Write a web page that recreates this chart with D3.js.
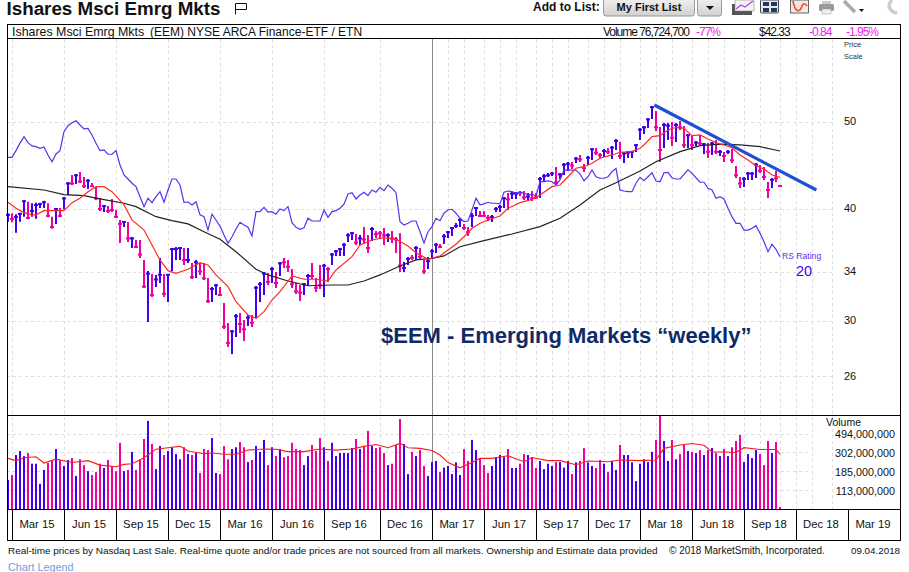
<!DOCTYPE html>
<html>
<head>
<meta charset="utf-8">
<script src="https://cdn.jsdelivr.net/npm/d3@7"></script>
<style>
  html, body { margin: 0; padding: 0; background: #fff; }
  svg { display: block; font-family: "Liberation Sans", Arial, sans-serif; }
</style>
</head>
<body>
<svg id="chart" width="909" height="572"></svg>
<script>
// weekly highs / lows / closes
const highs = [39.47,39.47,39.37,39.52,40.83,40.65,40.49,40.55,40.55,40.76,40.49,39.12,40.0,40.0,41.11,42.76,43.53,43.64,43.87,43.31,
  43.09,42.65,42.22,41.04,40.32,40.21,40.94,39.8,38.79,38.69,38.59,37.13,36.85,36.85,35.01,34.03,33.77,33.69,35.19,33.77,
  33.77,36.09,36.19,36.19,36.09,36.09,34.74,35.01,34.74,34.74,33.43,32.66,32.92,32.66,31.35,29.78,29.25,30.48,30.56,30.01,
  30.4,30.4,32.75,33.09,33.95,33.86,34.39,33.95,34.83,35.19,35.01,34.21,33.0,32.83,33.0,33.77,34.74,33.43,34.56,34.65,
  34.39,35.64,35.91,36.09,36.57,37.5,37.6,37.41,37.32,38.09,37.32,38.09,37.7,37.7,37.99,37.5,37.7,37.13,37.5,34.83,
  35.28,35.46,36.28,36.09,35.01,35.28,36.0,36.57,36.47,37.41,37.7,38.09,38.49,38.99,38.39,38.09,39.5,40.11,39.7,39.7,
  39.3,39.3,40.11,40.32,41.15,41.57,41.68,41.68,41.78,41.78,41.57,41.78,41.57,43.31,43.64,43.76,43.87,44.43,43.76,44.89,
  45.01,45.01,45.59,45.83,44.78,45.71,46.66,46.66,46.07,46.54,46.66,46.9,47.74,47.38,46.18,46.3,46.3,47.14,49.11,49.36,
  50.38,51.95,51.3,49.24,49.74,49.74,49.87,49.74,49.99,49.36,48.36,48.12,47.5,48.24,47.26,47.26,47.38,47.62,46.42,46.18,
  46.42,46.54,44.54,43.31,43.31,43.87,43.87,44.89,44.67,44.43,42.76,43.2,43.98,42.4];
const lows = [38.62,38.56,37.54,38.62,39.12,38.86,39.12,38.92,40.0,40.0,39.06,37.93,38.4,39.06,39.87,41.36,42.43,42.54,42.65,42.11,
  42.0,42.22,40.83,39.7,39.6,39.5,39.6,38.99,36.57,38.09,36.66,36.09,36.09,35.19,32.58,29.86,31.83,32.66,33.0,31.83,
  31.43,34.03,35.01,35.01,34.56,34.74,33.34,33.43,33.69,33.26,31.35,31.43,32.0,31.92,29.33,28.0,27.5,28.73,29.03,28.44,
  29.55,29.48,30.16,31.43,32.0,32.83,33.0,32.58,33.6,34.3,33.95,32.58,32.08,31.51,32.0,32.75,33.34,32.25,32.49,31.83,
  33.09,34.56,35.37,35.37,35.37,36.66,36.85,36.38,36.38,36.47,35.64,36.76,37.04,37.04,36.38,36.66,36.57,35.64,33.95,33.95,
  34.56,35.01,35.01,35.01,33.77,34.21,35.19,35.64,36.09,36.47,37.04,37.23,37.99,38.09,37.8,37.23,38.09,39.2,39.09,39.09,
  38.69,38.59,39.6,39.6,40.0,39.8,40.94,40.94,41.25,40.83,40.72,40.72,40.94,41.04,42.87,43.31,43.42,42.43,43.09,43.53,
  43.98,44.2,44.89,45.01,43.87,44.67,45.24,45.83,45.48,45.59,45.95,45.36,46.42,45.36,44.89,45.48,45.48,46.18,47.62,48.36,
  49.11,50.25,48.74,45.01,46.66,47.62,46.9,47.38,48.86,46.66,46.66,46.42,46.9,47.02,45.95,45.48,45.83,45.95,45.71,45.01,
  45.95,44.89,43.2,42.11,42.22,42.98,42.98,43.2,43.76,42.98,41.04,42.11,42.76,42.25];
const closes = [39.3,38.9,39.1,39.4,40.7,39.0,39.7,40.3,40.4,40.6,39.2,38.1,39.9,39.2,41.0,42.6,42.6,43.5,42.8,42.3,
  42.9,42.3,41.0,39.9,40.2,39.7,39.8,39.1,38.4,38.6,37.0,37.0,36.2,35.5,32.7,33.8,32.0,33.3,33.7,32.1,
  33.7,36.0,36.0,36.1,35.0,35.0,33.5,34.8,34.0,33.4,31.5,32.5,32.8,32.0,29.5,28.3,29.15,30.3,29.7,29.3,
  30.2,29.8,32.6,32.9,33.8,33.1,34.2,33.0,34.7,34.8,34.4,32.9,32.3,32.2,32.9,33.6,33.6,32.6,32.8,34.5,
  34.2,35.5,35.8,36.0,36.4,37.3,37.5,36.6,37.0,36.9,36.1,37.9,37.4,37.5,37.3,37.3,37.0,36.9,34.5,34.3,
  35.1,35.2,36.1,35.3,34.0,34.9,35.8,36.4,36.2,37.2,37.6,38.0,38.2,38.8,38.0,37.6,39.2,40.0,39.2,39.2,
  39.0,39.1,39.9,40.1,41.0,40.9,41.5,41.5,41.6,41.1,41.2,41.0,41.1,43.1,43.4,43.5,43.7,42.7,43.6,44.7,
  44.8,44.6,45.4,45.3,44.3,45.5,46.5,46.1,45.8,46.3,46.2,46.7,47.5,45.7,46.0,46.1,46.2,47.0,48.9,49.2,
  50.2,51.8,49.2,46.42,49.5,49.4,47.9,49.5,49.2,47.0,48.2,47.0,47.3,47.2,47.1,46.2,47.2,46.2,46.2,45.7,
  46.2,45.2,43.5,42.6,43.1,43.7,43.7,44.7,44.0,43.3,41.9,43.0,43.17,42.33];
// 1 = up week (blue), 0 = down week (pink)
const weekUp = ("1011101111" + "0010110100" + "1000100001" + "0100010110" + "1111010100" + "0110001100" + "1011101010" +
  "0000110001" + "0111111010" + "0100010001" + "1010011101" + "1111001100" + "0111101100" + "1001111011" + "1010011001" +
  "0110111111" + "1100110100" + "1010101010" + "1000111100" + "0100").split("").map(Number);

// weekly volume, millions of shares
const volumes = [149,170,286,317,278,301,228,228,135,194,233,245,334,251,215,251,264,166,256,220,
  188,170,183,228,204,251,215,188,393,188,194,310,194,256,434,694,381,198,361,286,
  317,350,293,256,350,293,286,301,179,334,325,445,179,174,361,256,334,350,401,350,
  238,251,361,310,423,220,350,278,334,270,278,393,334,325,220,278,371,317,445,350,
  245,393,278,301,301,301,343,434,334,361,536,361,343,350,301,220,228,371,730,381,
  174,310,278,325,215,166,238,245,183,206,215,174,236,170,334,245,423,325,262,220,
  179,215,270,286,270,334,204,204,228,293,286,270,204,245,198,228,215,238,238,206,
  245,174,236,245,342,236,215,204,251,228,183,245,194,371,286,286,236,145,228,256,
  238,310,423,805,412,245,423,256,293,371,317,310,301,325,286,325,343,301,278,334,
  278,350,412,481,238,293,264,325,293,220,412,301,401,74];

// moving averages and relative strength line
const ma10Weeks = [0,2,4,6,7,9,11,14,16,18,20,22,24,26,29,31,34,36,38,40,42,45,48,50,52,55,57,60,62,64,66,68,71,74,77,80,82,86,88,91,94,97,100,102,105,108,110,112,114,116,118,120,123,125,128,131,133,136,138,140,142,144,146,148,151,153,156,158,159,161,163,165,167,169,171,173,175,177,179,181,183,185,187,189,191,193];
const ma10Values = [40.59,39.97,39.53,39.3,39.3,39.73,39.73,39.73,40.55,41.01,41.71,42.25,42.25,41.71,40.32,38.79,37.8,36.38,35.01,34.06,33.83,34.18,34.77,34.56,33.69,32.69,31.45,30.4,30.14,30.66,31.59,32.27,33.6,33.32,33.32,33.17,34.12,35.31,36.38,36.85,37.07,36.92,36.28,35.67,35.07,35.37,35.91,36.45,37.16,37.97,38.46,38.79,39.19,39.97,40.55,40.9,41.36,42.25,42.43,43.34,44.29,44.47,44.86,45.44,45.83,46.15,46.22,46.62,47.02,48.03,48.15,48.86,49.2,49.07,48.15,48.24,47.74,47.29,47.02,46.69,45.83,45.24,44.59,44.2,43.53,43.28];
const ma40Weeks = [0,9,14,19,23,29,32,37,41,45,49,53,57,62,65,70,75,81,85,89,93,98,102,106,109,113,119,126,133,138,143,148,152,158,162,168,173,178,183,188,193];
const ma40Values = [42.25,41.89,41.39,41.28,40.94,40.49,40.14,39.12,38.72,38.4,37.64,36.92,35.76,34.18,33.69,33.17,32.77,32.83,32.83,33.17,33.69,34.47,35.01,35.16,35.37,36.22,36.79,37.42,38.13,38.96,40.32,41.89,42.68,43.98,45.04,46.22,46.94,47.12,47.02,46.82,46.3];
const rsValues = [45.55,45.55,46.34,47.24,48.03,47.3,46.9,46.82,46.62,46.78,45.83,45.04,45.95,46.34,48.65,49.4,49.78,50.03,49.49,48.99,
  49.07,48.24,47.22,46.34,46.42,45.91,45.91,46.34,44.67,43.53,43.09,42.62,42.25,41.18,40.14,41.01,40.55,41.18,41.71,40.59,
  41.89,43.09,43.09,42.43,40.59,40.62,40.32,40.65,39.3,39.12,37.8,39.37,38.79,38.19,37.32,36.54,37.16,37.9,38.56,38.29,
  38.07,37.23,39.63,39.63,40.07,39.57,39.63,39.37,39.9,39.73,40.14,38.52,38.07,37.87,38.03,38.96,38.69,38.69,38.69,39.8,
  39.06,39.63,39.73,39.97,40.39,41.47,41.6,40.94,41.36,41.65,41.29,41.89,41.65,42.18,41.82,42.43,42.08,41.6,38.62,38.29,
  38.46,38.69,38.69,37.64,36.57,37.64,38.13,38.96,38.72,39.47,39.8,39.87,39.47,38.96,38.62,38.69,39.8,41.01,40.32,40.42,
  40.59,40.49,40.49,40.42,41.65,41.78,41.71,41.54,41.65,41.54,41.36,41.43,41.25,42.79,42.79,42.87,42.79,42.43,42.98,44.09,
  44.09,44.09,44.09,43.64,42.9,43.34,44.09,43.34,43.17,43.17,43.34,43.9,44.29,41.89,41.78,41.71,41.71,42.62,43.28,42.9,
  43.34,43.79,42.87,42.79,43.79,43.83,43.23,43.09,43.09,43.61,44.12,43.72,43.23,42.73,42.73,42.08,41.89,41.01,41.18,40.94,
  39.97,39.12,38.46,38.46,37.8,37.8,37.97,38.23,37.49,36.69,35.76,36.45,35.98,35.31];
const volMaWeeks = [0,2,4,7,9,12,16,20,23,27,29,31,33,35,37,41,43,45,49,51,54,57,60,64,67,70,74,78,82,86,89,92,95,98,100,103,106,108,110,113,116,118,121,125,129,131,135,138,142,145,150,153,158,162,164,168,171,174,176,179,182,184,188,192,193];
const volMaValues = [262,247,266,273,232,257,235,247,220,211,224,228,251,286,333,350,358,317,295,301,292,292,325,334,332,312,312,334,325,334,358,376,346,387,346,340,322,286,235,205,236,262,262,280,240,268,247,247,222,245,240,251,247,251,340,371,386,368,309,309,305,346,330,330,292];

// trend line drawn on the chart: week, price
const trendWeeks = [161.6, 202.1];
const trendPrices = [52.1, 41.89];

// axes
const priceTicks = [50, 40, 34, 30, 26];
const volumeTicks = [494, 302, 185, 113];
const quarterWeeks = [1, 14, 27, 40, 53, 66, 79, 93, 106, 119, 132, 145, 158, 171, 184, 197, 210];
const quarterLabels = ["Mar 15","Jun 15","Sep 15","Dec 15","Mar 16","Jun 16","Sep 16","Dec 16","Mar 17","Jun 17","Sep 17","Dec 17","Mar 18","Jun 18","Sep 18","Dec 18","Mar 19"];
const gridWeeks = [1,14,27,40,53,66,79,93,110,114,119,123,127,132,136,140,145,149,153,158,162,166,171,175,179,184,188,193,197,201,206];
const markerWeek = 106;

const BLUE = "#4300f0";
const PINK = "#f000a0";
const panel = { left: 7, right: 900, top: 25, head: 38.5, priceBottom: 415.5, volBottom: 509.5, bottom: 540 };

const x = d3.scaleLinear().domain([0, 193]).range([8, 780]);
const yPrice = d3.scaleLog().domain([40, 50]).range([208, 121]);
const yVol = d3.scaleLog().domain([113, 494]).range([490.7, 434]);

const svg = d3.select("#chart");
const weeks = d3.range(highs.length);

// grid
const grid = svg.append("g").attr("stroke", "#dedede").attr("stroke-dasharray", "3,3").attr("shape-rendering", "crispEdges");
grid.selectAll(".v").data(gridWeeks).join("line")
  .attr("x1", d => x(d) + 0.5).attr("x2", d => x(d) + 0.5)
  .attr("y1", panel.head).attr("y2", panel.volBottom);
grid.selectAll(".p").data(priceTicks).join("line")
  .attr("x1", panel.left).attr("x2", 833)
  .attr("y1", d => yPrice(d) + 1).attr("y2", d => yPrice(d) + 1);
grid.selectAll(".w").data(volumeTicks).join("line")
  .attr("x1", panel.left).attr("x2", 811)
  .attr("y1", d => yVol(d)).attr("y2", d => yVol(d));

svg.append("line")
  .attr("x1", x(markerWeek) + 0.5).attr("x2", x(markerWeek) + 0.5)
  .attr("y1", panel.head).attr("y2", panel.volBottom)
  .attr("stroke", "#8a8a8a").attr("stroke-width", 1);

// price bars
const bars = svg.append("g");
bars.selectAll(".stem").data(weeks).join("line")
  .attr("x1", d => x(d)).attr("x2", d => x(d))
  .attr("y1", d => yPrice(highs[d])).attr("y2", d => yPrice(lows[d]))
  .attr("stroke", d => weekUp[d] ? BLUE : PINK).attr("stroke-width", 2);
bars.selectAll(".close").data(weeks).join("line")
  .attr("x1", d => x(d) - 2).attr("x2", d => x(d) + 2)
  .attr("y1", d => yPrice(closes[d])).attr("y2", d => yPrice(closes[d]))
  .attr("stroke", d => weekUp[d] ? BLUE : PINK).attr("stroke-width", 2);

// lines on the price panel
const priceLine = d3.line().x(d => x(d[0])).y(d => yPrice(d[1]));
svg.append("path").attr("d", priceLine(d3.zip(weeks, rsValues)))
  .attr("fill", "none").attr("stroke", "#5a30f0").attr("stroke-width", 1.2);
svg.append("path").attr("d", priceLine(d3.zip(ma40Weeks, ma40Values)))
  .attr("fill", "none").attr("stroke", "#222").attr("stroke-width", 1.2);
svg.append("path").attr("d", priceLine(d3.zip(ma10Weeks, ma10Values)))
  .attr("fill", "none").attr("stroke", "#ff2a20").attr("stroke-width", 1.2);
svg.append("path").attr("d", priceLine(d3.zip(trendWeeks, trendPrices)))
  .attr("fill", "none").attr("stroke", "#1f4fd2").attr("stroke-width", 3.2);

// volume
svg.append("g").selectAll("rect").data(weeks).join("rect")
  .attr("x", d => x(d) - 1).attr("width", 2)
  .attr("y", d => yVol(volumes[d]))
  .attr("height", d => panel.volBottom - yVol(volumes[d]))
  .attr("fill", d => weekUp[d] ? BLUE : PINK);
svg.append("path")
  .attr("d", d3.line().x(d => x(d[0])).y(d => yVol(d[1]))(d3.zip(volMaWeeks, volMaValues)))
  .attr("fill", "none").attr("stroke", "#ff1a1a").attr("stroke-width", 1.1);

// frame
const frame = svg.append("g").attr("stroke", "#000").attr("fill", "none").attr("shape-rendering", "crispEdges");
frame.append("rect").attr("x", panel.left).attr("y", panel.top - 1)
  .attr("width", panel.right - panel.left).attr("height", panel.bottom - panel.top + 1);
[panel.head, panel.priceBottom, panel.volBottom].forEach(y => {
  frame.append("line").attr("x1", panel.left).attr("x2", panel.right).attr("y1", y).attr("y2", y);
});
frame.selectAll(".q").data(quarterWeeks).join("line")
  .attr("x1", d => x(d) + 0.5).attr("x2", d => x(d) + 0.5)
  .attr("y1", panel.volBottom).attr("y2", panel.bottom);

svg.append("g").selectAll("text").data(quarterLabels).join("text")
  .attr("x", (d, i) => x(quarterWeeks[i]) + 25)
  .attr("y", 528).attr("text-anchor", "middle")
  .attr("font-size", 11.3).attr("fill", "#111").text(d => d);

// price and volume axes
const priceAxis = svg.append("g").attr("transform", "translate(844,0)")
  .call(d3.axisRight(yPrice).tickValues(priceTicks).tickFormat(d3.format("d")).tickSize(0).tickPadding(0));
priceAxis.select(".domain").remove();
priceAxis.selectAll("text").attr("font-family", "Liberation Sans").attr("font-size", 11).attr("fill", "#111");

const volumeAxis = svg.append("g").attr("transform", "translate(895,0)")
  .call(d3.axisLeft(yVol).tickValues(volumeTicks).tickFormat(d => d3.format(",")(d * 1e6)).tickSize(0).tickPadding(0));
volumeAxis.select(".domain").remove();
volumeAxis.selectAll("text").attr("font-family", "Liberation Sans").attr("font-size", 10.8).attr("fill", "#111");

function label(txt, px, py, size, color, opts = {}) {
  return svg.append("text").attr("x", px).attr("y", py)
    .attr("font-size", size).attr("fill", color)
    .attr("font-weight", opts.bold ? "bold" : "normal")
    .attr("text-anchor", opts.anchor || "start")
    .attr("letter-spacing", opts.spacing || 0)
    .text(txt);
}

label("Volume", 826, 426, 10.5, "#111");
label("Price", 844, 47, 7.5, "#333");
label("Scale", 844, 59, 7.5, "#333");

// title row
label("Ishares Msci Emrg Mkts", 6.5, 15.2, 18.8, "#111", { bold: true });
svg.append("path").attr("d", "M235.5 14.5V3.5H246.5V9.5H235.5").attr("fill", "none").attr("stroke", "#111");
label("Add to List:", 533, 11, 12, "#111", { bold: true });

const defs = svg.append("defs");
const btn = defs.append("linearGradient").attr("id", "btn").attr("x1", 0).attr("x2", 0).attr("y1", 0).attr("y2", 1);
btn.append("stop").attr("offset", 0).attr("stop-color", "#f6f6f6");
btn.append("stop").attr("offset", 1).attr("stop-color", "#d2d0ce");
svg.append("rect").attr("x", 603.5).attr("y", -4).attr("width", 91).attr("height", 20).attr("rx", 2.5)
  .attr("fill", "url(#btn)").attr("stroke", "#999");
svg.append("rect").attr("x", 697.5).attr("y", -4).attr("width", 24).attr("height", 20).attr("rx", 2.5)
  .attr("fill", "url(#btn)").attr("stroke", "#999");
label("My First List", 649, 10.5, 11, "#111", { bold: true, anchor: "middle" });
svg.append("path").attr("d", "M706 6H714L710 10Z").attr("fill", "#111");

// toolbar icons
const icons = svg.append("g");
icons.append("rect").attr("x", 732).attr("y", 4).attr("width", 20).attr("height", 11).attr("fill", "#555");
icons.append("rect").attr("x", 735).attr("y", 0).attr("width", 19).attr("height", 11).attr("fill", "#f4f4f4").attr("stroke", "#777").attr("stroke-width", 0.5);
icons.append("path").attr("d", "M736 9L741 5L745 7L753 1").attr("fill", "none").attr("stroke", "#b040e0").attr("stroke-width", 1.2);
icons.append("rect").attr("x", 760.5).attr("y", 0).attr("width", 18).attr("height", 13).attr("rx", 1).attr("fill", "#e8e8e8").attr("stroke", "#445");
icons.append("path").attr("d", "M763 2H769V6H763ZM771 2H777V6H771ZM763 8H769V12H763ZM771 8H777V12H771Z").attr("fill", "#1d3a5c");
icons.append("rect").attr("x", 790.5).attr("y", 0).attr("width", 18).attr("height", 13).attr("fill", "#f0e8e4").attr("stroke", "#666");
icons.append("path").attr("d", "M793 1C795 13 800 13 802 6C803 3 805 3 807 6").attr("fill", "none").attr("stroke", "#f05020").attr("stroke-width", 1.6);
icons.append("rect").attr("x", 819).attr("y", 4).attr("width", 15).attr("height", 7).attr("rx", 1.5).attr("fill", "#999");
icons.append("rect").attr("x", 822).attr("y", 1).attr("width", 9).attr("height", 3).attr("fill", "#ccc");
icons.append("rect").attr("x", 822).attr("y", 9).attr("width", 9).attr("height", 5).attr("fill", "#eee").attr("stroke", "#999").attr("stroke-width", 0.5);
icons.append("path").attr("d", "M844 1L849 6L855 12").attr("fill", "none").attr("stroke", "#aaa").attr("stroke-width", 3.5);
icons.append("path").attr("d", "M859 9H864L861.5 12Z").attr("fill", "#111");
icons.append("path").attr("d", "M892 0C888 4 888 8 893 12L897 13").attr("fill", "none").attr("stroke", "#ccc").attr("stroke-width", 3.5);

// header strip of the chart
label("Ishares Msci Emrg Mkts", 12, 36, 12.4, "#111");
label("(EEM) NYSE ARCA Finance-ETF / ETN", 150, 36, 12, "#111");
label("Volume 76,724,700", 603, 36, 12, "#111", { spacing: -1.03 });
label("-77%", 696, 36, 12, "#f020f0", { spacing: -1 });
label("$42.33", 759, 36, 12, "#111", { spacing: -1 });
label("-0.84", 809, 36, 12, "#f020f0", { spacing: -1 });
label("-1.95%", 846, 36, 12, "#f020f0", { spacing: -1 });

// annotations
label("$EEM - Emerging Markets \u201cweekly\u201d", 381, 343, 22, "#0f2a66", { bold: true });
label("RS Rating", 782, 258.5, 8.6, "#5a30f0");
label("20", 796, 276, 14.5, "#4300f0");

// footer
defs.append("clipPath").attr("id", "foot").append("rect").attr("x", 0).attr("y", 540).attr("width", 659).attr("height", 20);
label("Real-time prices by Nasdaq Last Sale. Real-time quote and/or trade prices are not sourced from all markets. Ownership and Estimate data provided by", 8, 554, 9.95, "#111")
  .attr("clip-path", "url(#foot)");
label("\u00a9 2018 MarketSmith, Incorporated.", 669, 554, 10, "#111");
label("09.04.2018", 851, 553.5, 9.8, "#111");
label("Chart Legend", 8, 570.5, 10.8, "#6fa0d8");
</script>
</body>
</html>
